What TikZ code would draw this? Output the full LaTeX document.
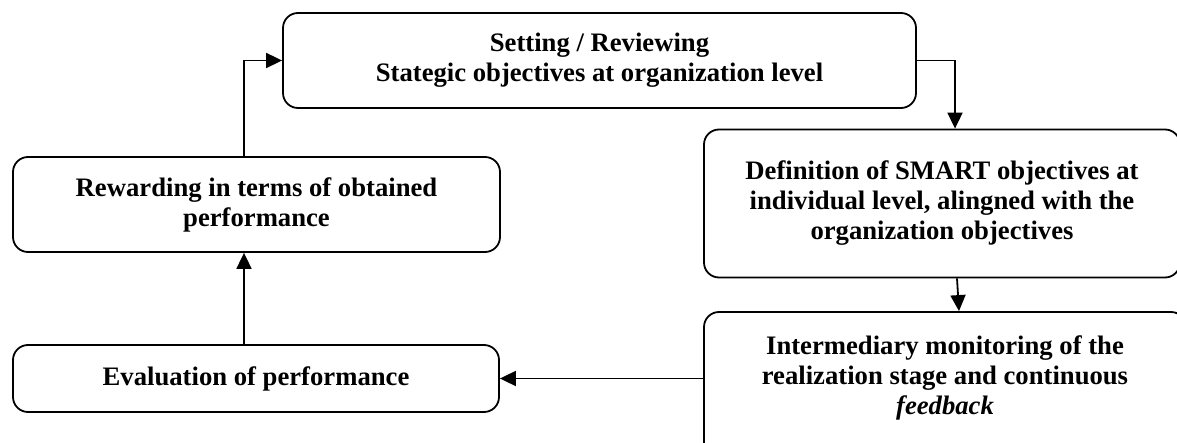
\documentclass[tikz,border=0pt]{standalone}
\usepackage{fontspec}
\setmainfont{Liberation Serif}
\usetikzlibrary{arrows.meta,calc}
\begin{document}
\begin{tikzpicture}[x=1pt,y=-1pt,
  box/.style={draw, line width=1.8pt, rounded corners=15pt, inner sep=0pt,
    align=center, font=\fontsize{26.67}{30}\selectfont\bfseries},
  lbl/.style={inner sep=0pt, align=center, font=\fontsize{26.67}{30}\selectfont\bfseries},
  arr/.style={line width=1.8pt, -{Triangle[length=16pt,width=15pt]}}]
\useasboundingbox (0,0) rectangle (1177,443);
\clip (0,0) rectangle (1177,443);
% boxes
\node[box, minimum width=633pt, minimum height=95pt] (top) at (599.5,60.5)
  {Setting / Reviewing\\Stategic objectives at organization level};
\node[box, minimum width=487pt, minimum height=95pt] (rew) at (256.5,204.5)
  {Rewarding in terms of obtained\\performance};
\node[box, minimum width=476pt, minimum height=148pt] (smart) at (942,203.5)
  {Definition of SMART objectives at\\individual level, alingned with the\\organization objectives};
\node[box, minimum width=482pt, minimum height=150pt] (mon) at (945,387) {};
\node[lbl] (tmon) at (945,378)
  {Intermediary monitoring of the\\realization stage and continuous\\\textit{feedback}};
\node[box, minimum width=486pt, minimum height=67pt] (eval) at (256,378.5)
  {Evaluation of performance};
% connectors
\coordinate (xl) at (244,0);
\coordinate (xr) at (955,0);
\draw[arr] (eval.north -| xl) -- (rew.south -| xl);
\draw[arr] (rew.north -| xl) |- (top.west);
\draw[arr] (top.east) -| (smart.north -| xr);
\draw[arr] ($(smart.south)+(15,0)$) -- ($(mon.north)+(14,0)$);
\draw[arr] (mon.west |- eval.east) -- (eval.east);
\end{tikzpicture}
\end{document}
